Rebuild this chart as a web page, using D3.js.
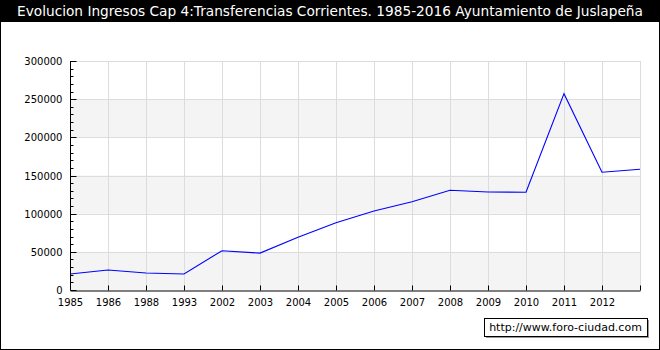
<!DOCTYPE html>
<html>
<head>
<meta charset="utf-8">
<script src="https://cdn.jsdelivr.net/npm/d3@7"></script>
<style>
  body { margin: 0; background: #fff; }
  svg { display: block; font-family: "DejaVu Sans", Verdana, sans-serif; }
</style>
</head>
<body>
<div id="chart"></div>
<script>
// Years on the x axis (last one has no visible label in the original)
const years = ['1985', '1986', '1988', '1993', '2002', '2003', '2004', '2005', '2006',
               '2007', '2008', '2009', '2010', '2011', '2012', '2016'];
const hiddenLabels = ['2016'];

// Ingresos Cap 4 (euros)
const ingresos = [21000, 26200, 22300, 21000, 51500, 48300, 69000, 88200, 103500,
                  115700, 130600, 128400, 128000, 257200, 154200, 158100];

const yTicks = [0, 50000, 100000, 150000, 200000, 250000, 300000];
const title = 'Evolucion Ingresos Cap 4:Transferencias Corrientes. 1985-2016 Ayuntamiento de Juslapeña';
const credit = 'http://www.foro-ciudad.com';

const width = 660, height = 350;
const margin = { top: 61, right: 20, bottom: 60, left: 70 };

const svg = d3.select('#chart').append('svg')
    .attr('width', width)
    .attr('height', height);

svg.append('rect')
    .attr('x', 0.5).attr('y', 0.5)
    .attr('width', width - 1).attr('height', height - 1)
    .attr('fill', '#fff').attr('stroke', '#000');

// Title bar
svg.append('rect')
    .attr('x', 0).attr('y', 0)
    .attr('width', width).attr('height', 22)
    .attr('fill', '#000');
svg.append('text')
    .attr('x', width / 2).attr('y', 16)
    .attr('text-anchor', 'middle')
    .attr('fill', '#fff')
    .style('font-size', '13.7px')
    .text(title);

const x = d3.scalePoint()
    .domain(years)
    .range([margin.left, width - margin.right]);

const y = d3.scaleLinear()
    .domain([0, 300000])
    .range([height - margin.bottom, margin.top]);

const plot = svg.append('g');

// Alternating bands
d3.range(0, yTicks.length - 1, 2).forEach(i => {
    plot.append('rect')
        .attr('x', margin.left)
        .attr('y', y(yTicks[i + 1]))
        .attr('width', x.range()[1] - margin.left)
        .attr('height', y(yTicks[i]) - y(yTicks[i + 1]))
        .attr('fill', '#f4f4f4');
});

// Grid
plot.selectAll('.hgrid')
    .data(yTicks.slice(1))
    .enter().append('line')
    .attr('x1', margin.left).attr('x2', x.range()[1])
    .attr('y1', d => Math.round(y(d)) + 0.5).attr('y2', d => Math.round(y(d)) + 0.5)
    .attr('stroke', '#dcdcdc');

plot.selectAll('.vgrid')
    .data(years.slice(1))
    .enter().append('line')
    .attr('x1', d => Math.round(x(d)) + 0.5).attr('x2', d => Math.round(x(d)) + 0.5)
    .attr('y1', margin.top).attr('y2', y(0))
    .attr('stroke', '#dcdcdc');

// Line
const line = d3.line()
    .x((d, i) => x(years[i]))
    .y(d => y(d));

svg.append('path')
    .datum(ingresos)
    .attr('d', line)
    .attr('fill', 'none')
    .attr('stroke', '#0000ff')
    .attr('stroke-width', 1.1);

// Y axis: major ticks inward, minor ticks every 10000
const yAxis = svg.append('g')
    .attr('transform', `translate(${margin.left + 0.5},0)`);
yAxis.append('line')
    .attr('y1', margin.top).attr('y2', y(0))
    .attr('stroke', '#000');
yAxis.selectAll('.minor')
    .data(d3.range(0, 300001, 10000))
    .enter().append('line')
    .attr('x1', 0)
    .attr('x2', d => yTicks.includes(d) ? 6 : 3)
    .attr('y1', d => Math.round(y(d)) + 0.5).attr('y2', d => Math.round(y(d)) + 0.5)
    .attr('stroke', '#000');
yAxis.selectAll('.lbl')
    .data(yTicks)
    .enter().append('text')
    .attr('x', -8)
    .attr('y', d => y(d) + 4)
    .attr('text-anchor', 'end')
    .style('font-size', '10px')
    .text(d => d);

// X axis
const xAxis = svg.append('g')
    .attr('transform', `translate(0,${Math.round(y(0)) + 0.5})`)
    .call(d3.axisBottom(x)
        .tickSizeInner(-5)
        .tickSizeOuter(0)
        .tickPadding(8)
        .tickFormat(d => hiddenLabels.includes(d) ? '' : d));
xAxis.select('.domain').attr('stroke', '#000');
xAxis.selectAll('.tick line').attr('stroke', '#000');
xAxis.selectAll('text')
    .attr('fill', '#000')
    .style('font-size', '10px')
    .style('font-family', '"DejaVu Sans", Verdana, sans-serif');

// Credit box
const cx = 484, cy = 318, cw = 163, ch = 18;
svg.append('rect')
    .attr('x', cx + 2).attr('y', cy + 2)
    .attr('width', cw).attr('height', ch)
    .attr('fill', '#999');
svg.append('rect')
    .attr('x', cx + 0.5).attr('y', cy + 0.5)
    .attr('width', cw).attr('height', ch)
    .attr('fill', '#fff').attr('stroke', '#000');
svg.append('text')
    .attr('x', cx + cw / 2).attr('y', cy + 13)
    .attr('text-anchor', 'middle')
    .style('font-size', '11px')
    .text(credit);
</script>
</body>
</html>
